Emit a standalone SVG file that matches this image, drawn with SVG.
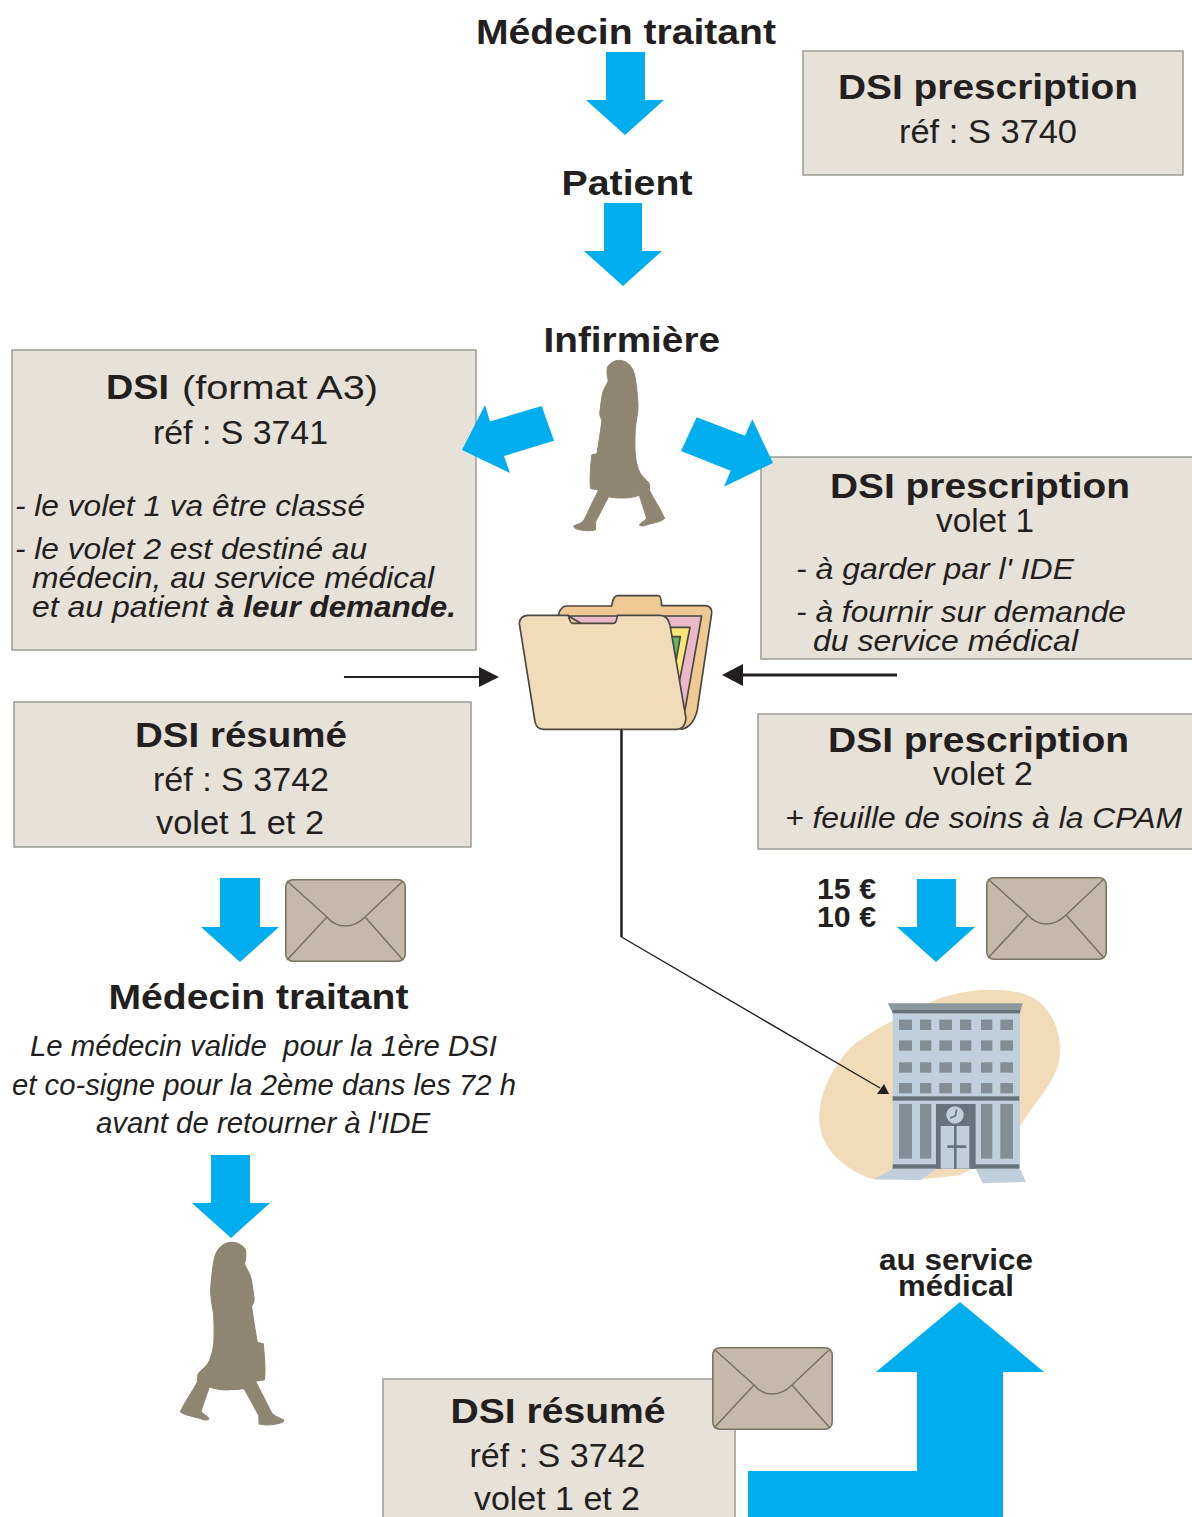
<svg xmlns="http://www.w3.org/2000/svg" width="1192" height="1517" viewBox="0 0 1192 1517">
<style>
text{font-family:"Liberation Sans",Arial,sans-serif;fill:#231f20;white-space:pre}
.h{font-weight:700;font-size:35px}
.r{font-size:33px}
.i{font-style:italic;font-size:30px}
.s{font-weight:700;font-size:29px}
.box{fill:#e6e1d9;stroke:#9c9c94;stroke-width:1.5}
.blue{fill:#00aeef}
.woman{fill:#8f8672;stroke:#8f8672;stroke-width:3;stroke-linejoin:round}
.env{fill:#c5baaa;stroke:#7a7463;stroke-width:1.6}
.envl{fill:none;stroke:#7a7463;stroke-width:1.6}
.line{fill:none;stroke:#231f20;stroke-linecap:butt}
.w{fill:#828e94}
.d{fill:#68747b}
.l{fill:#bfd0dc}
.fs{stroke:#4a4640;stroke-width:5;stroke-linejoin:round}
</style>
<defs>
<path id="woman" class="woman" d="M355 61C378 60 397 76 404 105C409 130 412 160 414 190C416 215 408 240 406 265C405 295 404 320 406 345C409 370 415 390 422 402C432 415 446 425 448 432L449 452C462 478 480 505 494 535C485 545 465 548 445 553C435 558 425 560 419 556C418 550 432 545 440 535L418 466C400 472 385 475 365 474C350 474 338 473 326 470C315 490 300 520 287 545L286 570C270 574 250 572 238 569C228 567 220 563 221 558C235 552 245 550 252 540C265 515 280 480 296 450L272 446C268 420 272 380 275 345L291 341C296 310 302 270 306 240C300 232 298 222 300 212C303 190 305 165 311 150L325 122C320 105 320 92 323 80C332 68 343 62 355 61Z"/>
<g id="envelope">
<rect x="0.8" y="0.8" width="119.4" height="81.4" rx="7" class="env"/>
<path class="envl" d="M2 2L42 38C52 50 68 50 80 38L118 2M42 38L2 81M80 38L118 81"/>
</g>
</defs>
<g id="box-prescription"><rect class="box" x="803" y="51" width="380" height="124"/>
<text class="h" x="838" y="99" textLength="300" lengthAdjust="spacingAndGlyphs">DSI prescription</text>
<text class="r" x="899" y="142.500" textLength="178" lengthAdjust="spacingAndGlyphs">réf : S 3740</text></g>
<g id="box-a3"><rect class="box" x="12" y="350" width="464" height="300"/>
<text class="h" x="106" y="399" textLength="63" lengthAdjust="spacingAndGlyphs">DSI</text>
<text class="r" x="182" y="399" textLength="196" lengthAdjust="spacingAndGlyphs">(format A3)</text>
<text class="r" x="153" y="443.500" textLength="175" lengthAdjust="spacingAndGlyphs">réf : S 3741</text>
<text class="i" x="15" y="515.500" textLength="350" lengthAdjust="spacingAndGlyphs">- le volet 1 va être classé</text>
<text class="i" x="15" y="558.500" textLength="352" lengthAdjust="spacingAndGlyphs">- le volet 2 est destiné au</text>
<text class="i" x="32" y="587.500" textLength="402" lengthAdjust="spacingAndGlyphs">médecin, au service médical</text>
<text class="i" x="32" y="617" textLength="176" lengthAdjust="spacingAndGlyphs">et au patient</text>
<text class="i" font-weight="700" x="217" y="617" textLength="239" lengthAdjust="spacingAndGlyphs">à leur demande.</text></g>
<g id="box-volet1"><rect class="box" x="761" y="457" width="440" height="202"/>
<text class="h" x="830" y="498" textLength="300" lengthAdjust="spacingAndGlyphs">DSI prescription</text>
<text class="r" x="936" y="532" textLength="98" lengthAdjust="spacingAndGlyphs">volet 1</text>
<text class="i" x="796" y="578.500" textLength="278" lengthAdjust="spacingAndGlyphs">- à garder par l' IDE</text>
<text class="i" x="796" y="621.500" textLength="330" lengthAdjust="spacingAndGlyphs">- à fournir sur demande</text>
<text class="i" x="813" y="651" textLength="265" lengthAdjust="spacingAndGlyphs">du service médical</text></g>
<g id="box-resume"><rect class="box" x="14" y="702" width="457" height="145"/>
<text class="h" x="135" y="747" textLength="212" lengthAdjust="spacingAndGlyphs">DSI résumé</text>
<text class="r" x="153" y="790.500" textLength="176" lengthAdjust="spacingAndGlyphs">réf : S 3742</text>
<text class="r" x="156" y="833.500" textLength="168" lengthAdjust="spacingAndGlyphs">volet 1 et 2</text></g>
<g id="box-volet2"><rect class="box" x="758" y="714" width="440" height="135"/>
<text class="h" x="828" y="751.500" textLength="301" lengthAdjust="spacingAndGlyphs">DSI prescription</text>
<text class="r" x="933" y="785" textLength="100" lengthAdjust="spacingAndGlyphs">volet 2</text>
<text class="i" x="785" y="827.500" textLength="397" lengthAdjust="spacingAndGlyphs">+ feuille de soins à la CPAM</text></g>
<g id="box-resume2"><rect class="box" x="383" y="1379" width="352" height="145"/>
<text class="h" x="450.500" y="1423" textLength="215" lengthAdjust="spacingAndGlyphs">DSI résumé</text>
<text class="r" x="469.500" y="1466.500" textLength="176" lengthAdjust="spacingAndGlyphs">réf : S 3742</text>
<text class="r" x="474" y="1510" textLength="166" lengthAdjust="spacingAndGlyphs">volet 1 et 2</text></g>
<g id="label-medecin-top"><text class="h" x="476" y="44" textLength="300" lengthAdjust="spacingAndGlyphs">Médecin traitant</text></g>
<g id="label-patient"><text class="h" x="561.500" y="195" textLength="131" lengthAdjust="spacingAndGlyphs">Patient</text></g>
<g id="label-infirmiere"><text class="h" x="543.500" y="352" textLength="176.500" lengthAdjust="spacingAndGlyphs">Infirmière</text></g>
<g id="label-medecin"><text class="h" x="108.500" y="1009" textLength="300" lengthAdjust="spacingAndGlyphs">Médecin traitant</text>
<text class="i" x="30" y="1055.500" textLength="467" lengthAdjust="spacingAndGlyphs">Le médecin valide  pour la 1ère DSI</text>
<text class="i" x="12" y="1094.500" textLength="504" lengthAdjust="spacingAndGlyphs">et co-signe pour la 2ème dans les 72 h</text>
<text class="i" x="96" y="1132.500" textLength="334" lengthAdjust="spacingAndGlyphs">avant de retourner à l'IDE</text></g>
<g id="label-euros"><text class="s" x="817" y="899" textLength="59" lengthAdjust="spacingAndGlyphs">15 €</text>
<text class="s" x="817" y="927" textLength="59" lengthAdjust="spacingAndGlyphs">10 €</text></g>
<g id="label-service"><text class="s" x="879" y="1270" textLength="154" lengthAdjust="spacingAndGlyphs">au service</text>
<text class="s" x="898" y="1296" textLength="116" lengthAdjust="spacingAndGlyphs">médical</text></g>
<g id="woman-1"><use href="#woman" transform="translate(500 340) scale(.3333)"/></g>
<g id="woman-2"><use href="#woman" transform="matrix(-.378 0 0 .357 367.2 1220.6)"/></g>
<g id="folder" transform="translate(500 340) scale(.3333)">
<path d="M175 826Q182 798 200 798L335 798Q340 767 352 767L475 767Q484 767 485 797L618 797Q637 800 635 820L592 1110Q580 1160 545 1168L400 1100Z" fill="#eec994" class="fs"/>
<path d="M205 828L605 828L555 1110L500 1000Z" fill="#e9b8c9" class="fs"/>
<path d="M505 862L570 862L538 1025Z" fill="#f9e77a" class="fs"/>
<path d="M512 890L541 890L528 965Z" fill="#66b56c" class="fs"/>
<path d="M58 850Q60 828 82 826L205 826Q210 850 218 850L340 850Q350 850 352 826L480 826Q503 826 510 855L558 1135Q555 1168 530 1168L130 1168Q110 1168 105 1145Z" fill="#f1dbb8" class="fs"/>
</g>
<g id="hospital" transform="translate(800 980) scale(.3333)">
<path d="M58 420C55 340 100 260 150 205C190 165 330 90 420 55C500 25 620 20 680 45C750 70 785 150 780 225C775 300 700 370 660 440L640 500L480 585C380 600 290 600 220 598C130 570 60 500 58 420Z" fill="#f1dbb8"/>
<path d="M222 598L278 566L410 566L362 600ZM527 566L660 566L678 606L548 610Z" class="l"/>
<rect x="278" y="100" width="382" height="466" class="l"/>
<path d="M264 70L668 70L660 100L278 100Z" fill="#8b989e"/>
<rect x="278" y="90" width="382" height="10" class="d"/>
<rect x="278" y="349" width="380" height="13" class="d"/>
<rect x="278" y="553" width="380" height="13" class="d"/>
<g class="w">
<rect x="297" y="119" width="39" height="31"/><rect x="360" y="119" width="34" height="31"/><rect x="418" y="119" width="38" height="31"/><rect x="480" y="119" width="34" height="31"/><rect x="543" y="119" width="34" height="31"/><rect x="601" y="119" width="38" height="31"/>
<rect x="297" y="181" width="39" height="31"/><rect x="360" y="181" width="34" height="31"/><rect x="418" y="181" width="38" height="31"/><rect x="480" y="181" width="34" height="31"/><rect x="543" y="181" width="34" height="31"/><rect x="601" y="181" width="38" height="31"/>
<rect x="297" y="247" width="39" height="31"/><rect x="360" y="247" width="34" height="31"/><rect x="418" y="247" width="38" height="31"/><rect x="480" y="247" width="34" height="31"/><rect x="543" y="247" width="34" height="31"/><rect x="601" y="247" width="38" height="31"/>
<rect x="297" y="309" width="39" height="31"/><rect x="360" y="309" width="34" height="31"/><rect x="418" y="309" width="38" height="31"/><rect x="480" y="309" width="34" height="31"/><rect x="543" y="309" width="34" height="31"/><rect x="601" y="309" width="38" height="31"/>
<rect x="297" y="372" width="39" height="164"/><rect x="360" y="372" width="34" height="164"/><rect x="543" y="372" width="34" height="164"/><rect x="601" y="372" width="38" height="164"/>
</g>
<rect x="408" y="372" width="119" height="194" class="d"/>
<rect x="422" y="438" width="86" height="128" class="l"/>
<circle cx="465" cy="405" r="26" class="l"/>
<path d="M470 388L466 408L450 414" fill="none" stroke="#68747b" stroke-width="5"/>
<path d="M466 438V566M442 500H499" stroke="#68747b" stroke-width="8" fill="none"/>
</g>
<g id="envelopes">
<use href="#envelope" x="285" y="879"/>
<use href="#envelope" x="986" y="877"/>
<use href="#envelope" x="712" y="1347"/>
</g>
<g id="connectors">
<g class="blue">
<path d="M606 52H645V100H664L625 135L586 100H606Z"/>
<path d="M604 203H642V251H662L623 286L584 251H604Z"/>
<path d="M220 878H260V927H279L240 962L201 927H220Z"/>
<path d="M917 879H956V927H975L936 962L897 927H917Z"/>
<path d="M211 1155H250V1203H270L231 1238L192 1203H211Z"/>
<path d="M541.7 406L554 440.7L504 456L510 473L462 450L485 405L490 421.5Z"/>
<path d="M696.7 417.3L745 435.7L752.3 419.3L773 463L724 486.7L730.7 470.7L681 451Z"/>
<path d="M960 1302L1044 1372H1003V1517H748V1471H917V1372H876Z"/>
</g>
<path class="line" stroke-width="2" d="M344 677H482"/>
<path fill="#231f20" d="M499 677L479 667V687Z"/>
<path class="line" stroke-width="3" d="M897 675H738"/>
<path fill="#231f20" d="M722 675L743 664V686Z"/>
<path class="line" stroke-width="2.5" d="M621.5 730V937"/>
<path class="line" stroke-width="1.4" d="M621.5 937L880 1088"/>
<path fill="#231f20" d="M889 1094L877 1094L884 1084Z"/>
</g>
</svg>
